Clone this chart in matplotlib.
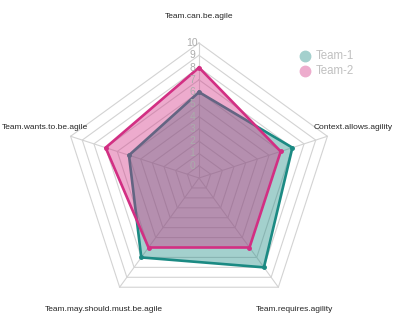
import numpy as np
import matplotlib
matplotlib.use("Agg")
import matplotlib.pyplot as plt

categories = ["Team.can.be.agile", "Context.allows.agility", "Team.requires.agility",
              "Team.may.should.must.be.agile", "Team.wants.to.be.agile"]
team1 = [6, 7, 8, 7, 5]
team2 = [8, 6, 6, 6, 7]
series_names = ["Team-1", "Team-2"]
tick_labels = [str(i) for i in range(0, 11)]
vmin, vmax, seg = 0, 10, 10

line_colors = ["#1B8A83", "#D22F83"]
fill_colors = ["#1B8A83", "#D22F83"]
legend_colors = ["#A4D0CD", "#EDACCD"]

plt.rcParams['font.family'] = ['Liberation Sans', 'DejaVu Sans']

W, H = 400, 327
fig = plt.figure(figsize=(W / 100, H / 100), dpi=100)
ax = fig.add_axes([0, 0, 1, 1])
cx, cy, scale = 199, 178, 135
ax.set_xlim(-cx / scale, (W - cx) / scale)
ax.set_ylim(-(H - cy) / scale, cy / scale)
ax.axis('off')

n = len(categories)
ang = np.pi / 2 - 2 * np.pi * np.arange(n) / n
ux, uy = np.cos(ang), np.sin(ang)

def radius(v):
    v = np.asarray(v, dtype=float)
    return ((v - vmin) / (vmax - vmin) * seg + 1) / (seg + 1)

# grid
grid_c = "#D3D3D3"
for i in range(seg + 1):
    r = (i + 1) / (seg + 1)
    ax.plot(np.append(ux, ux[0]) * r, np.append(uy, uy[0]) * r,
            color=grid_c, lw=0.8, zorder=1)
for k in range(n):
    ax.plot([0, ux[k]], [0, uy[k]], color=grid_c, lw=0.8, zorder=1)

# series
for j, vals in enumerate([team1, team2]):
    r = radius(vals)
    xs, ys = ux * r, uy * r
    ax.fill(xs, ys, color=fill_colors[j], alpha=0.4, lw=0, zorder=2 + j * 2)
    ax.plot(np.append(xs, xs[0]), np.append(ys, ys[0]), color=line_colors[j],
            lw=1.9, zorder=3 + j * 2, solid_joinstyle='miter')
    ax.plot(xs, ys, 'o', color=line_colors[j], ms=2.5, zorder=3 + j * 2)

# tick labels
for i, t in enumerate(tick_labels):
    r = (i + 1) / (seg + 1)
    ax.text(-0.05, r, t, ha='center', va='center', fontsize=7.5,
            color="#ABABAB", zorder=10)

# category labels
for k, c in enumerate(categories):
    ax.text(ux[k] * 1.2, uy[k] * 1.2, c, ha='center', va='center',
            fontsize=6, color="#262626", zorder=10)

# legend
for j, name in enumerate(series_names):
    yy = (cy - (55.7 + 15 * j)) / scale
    xx = (305 - cx) / scale
    ax.plot([xx], [yy], 'o', color=legend_colors[j], ms=7.5, zorder=10)
    ax.text(xx + 11 / scale, yy, name, ha='left', va='center', fontsize=8.3,
            color="#C0C0C0", zorder=10)

fig.savefig("out.png", dpi=100)
